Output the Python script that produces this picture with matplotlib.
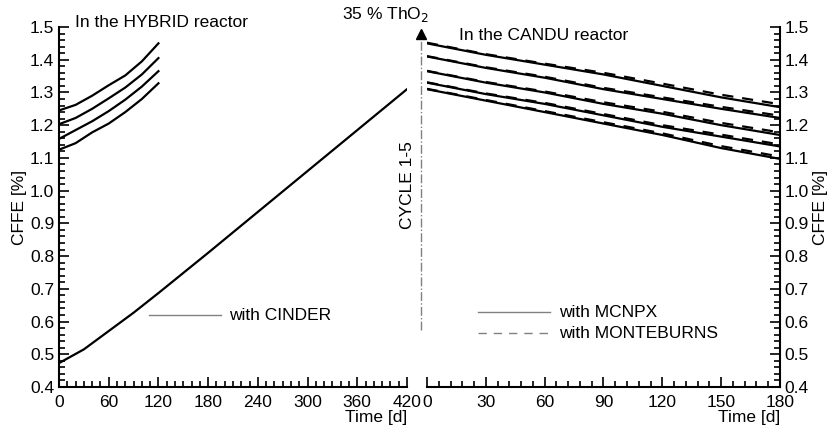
import matplotlib.pyplot as plt
from matplotlib.ticker import MultipleLocator

plt.rcParams['font.family'] = ['Liberation Sans', 'DejaVu Sans']
plt.rcParams['font.size'] = 12.5

# HYBRID reactor, CINDER (four cycles up to 120 d, plus the long first run)
hyb_t = [0, 20, 40, 60, 80, 100, 120]
hyb_1 = [1.245, 1.262, 1.290, 1.322, 1.352, 1.395, 1.450]
hyb_2 = [1.203, 1.222, 1.250, 1.282, 1.315, 1.355, 1.405]
hyb_3 = [1.158, 1.185, 1.212, 1.243, 1.278, 1.318, 1.365]
hyb_4 = [1.125, 1.145, 1.178, 1.205, 1.240, 1.280, 1.328]
long_t = [0, 30, 60, 90, 120, 180, 240, 300, 360, 420]
long_v = [0.473, 0.515, 0.571, 0.627, 0.687, 0.810, 0.935, 1.060, 1.185, 1.310]

# CANDU reactor, MCNPX (solid) and MONTEBURNS (dashed)
can_t = [0, 30, 60, 90, 120, 150, 180]
mcnpx = [
    [1.450, 1.415, 1.385, 1.355, 1.320, 1.285, 1.255],
    [1.410, 1.375, 1.345, 1.310, 1.280, 1.250, 1.222],
    [1.365, 1.330, 1.300, 1.265, 1.235, 1.200, 1.170],
    [1.330, 1.295, 1.265, 1.230, 1.195, 1.165, 1.135],
    [1.310, 1.275, 1.240, 1.205, 1.170, 1.130, 1.097],
]
monteburns = [
    [1.452, 1.417, 1.388, 1.360, 1.327, 1.293, 1.264],
    [1.411, 1.377, 1.348, 1.314, 1.285, 1.256, 1.229],
    [1.366, 1.332, 1.303, 1.270, 1.241, 1.207, 1.178],
    [1.331, 1.297, 1.268, 1.234, 1.200, 1.171, 1.141],
    [1.311, 1.277, 1.243, 1.209, 1.175, 1.136, 1.104],
]

fig = plt.figure(figsize=(8.28, 4.34), dpi=100)
W, H = 828, 434
axl = fig.add_axes([59 / W, 1 - 387 / H, 348 / W, 360 / H])
axr = fig.add_axes([427 / W, 1 - 387 / H, 353 / W, 360 / H])

lw = 1.6
for v in (hyb_1, hyb_2, hyb_3, hyb_4):
    axl.plot(hyb_t, v, color='black', lw=lw)
axl.plot(long_t, long_v, color='black', lw=lw)

for s, d in zip(mcnpx, monteburns):
    axr.plot(can_t, d, color='black', lw=lw, ls=(0, (5, 4)))
    axr.plot(can_t, s, color='black', lw=lw)

for ax in (axl, axr):
    ax.set_ylim(0.4, 1.5)
    ax.yaxis.set_major_locator(MultipleLocator(0.1))
    ax.yaxis.set_minor_locator(MultipleLocator(0.02))
    ax.spines['top'].set_visible(False)
    for sp in ax.spines.values():
        sp.set_linewidth(1.5)
    ax.tick_params(which='both', direction='in', width=1.2, labelsize=12.5)
    ax.tick_params(axis='x', which='both', pad=6)
    ax.tick_params(which='major', length=7)
    ax.tick_params(which='minor', length=4)
    ax.set_xlabel('Time [d]', fontsize=12.5, loc='right', labelpad=0)

axl.set_xlim(0, 420)
axl.xaxis.set_major_locator(MultipleLocator(60))
axl.xaxis.set_minor_locator(MultipleLocator(10))
axl.spines['right'].set_visible(False)
axl.set_ylabel('CFFE [%]', fontsize=12.5, labelpad=2)
axl.yaxis.set_major_formatter(plt.FuncFormatter(lambda v, p: f'{v:.1f}'))

axr.set_xlim(0, 180)
axr.xaxis.set_major_locator(MultipleLocator(30))
axr.xaxis.set_minor_locator(MultipleLocator(6))
axr.spines['left'].set_visible(False)
axr.yaxis.tick_right()
axr.yaxis.set_label_position('right')
axr.set_ylabel('CFFE [%]', fontsize=12.5, labelpad=3)
axr.yaxis.set_major_formatter(plt.FuncFormatter(lambda v, p: f'{v:.1f}'))

axl.text(0.045, 1.012, 'In the HYBRID reactor', transform=axl.transAxes,
         ha='left', va='center', fontsize=12.5)
axr.text(0.09, 0.975, 'In the CANDU reactor', transform=axr.transAxes,
         ha='left', va='center', fontsize=12.5)

# legends drawn by hand
axl.plot([0.26, 0.465], [0.2, 0.2], transform=axl.transAxes, color='gray', lw=1)
axl.text(0.49, 0.2, 'with CINDER', transform=axl.transAxes, va='center', fontsize=12.5)
axr.plot([0.144, 0.348], [0.208, 0.208], transform=axr.transAxes, color='gray', lw=1)
axr.text(0.375, 0.208, 'with MCNPX', transform=axr.transAxes, va='center', fontsize=12.5)
axr.plot([0.144, 0.348], [0.15, 0.15], transform=axr.transAxes, color='gray', lw=1,
         ls=(0, (6, 5)))
axr.text(0.375, 0.15, 'with MONTEBURNS', transform=axr.transAxes, va='center', fontsize=12.5)

# cycle marker between the panels
xf = 421 / W
fig.add_artist(plt.Line2D([xf, xf], [1 - 330 / H, 1 - 40 / H], color='gray',
                          lw=1, ls='-.'))
fig.add_artist(plt.Line2D([xf], [1 - 34 / H], marker='^', color='black',
                          markersize=7, ls='none'))
fig.text(408 / W, 1 - 185 / H, 'CYCLE 1-5', rotation=90, ha='center', va='center',
         fontsize=12.5)
fig.text(385 / W, 1 - 14 / H, '35 % ThO$_2$', ha='center', va='center', fontsize=12.5)

fig.savefig('out.png', dpi=100)
